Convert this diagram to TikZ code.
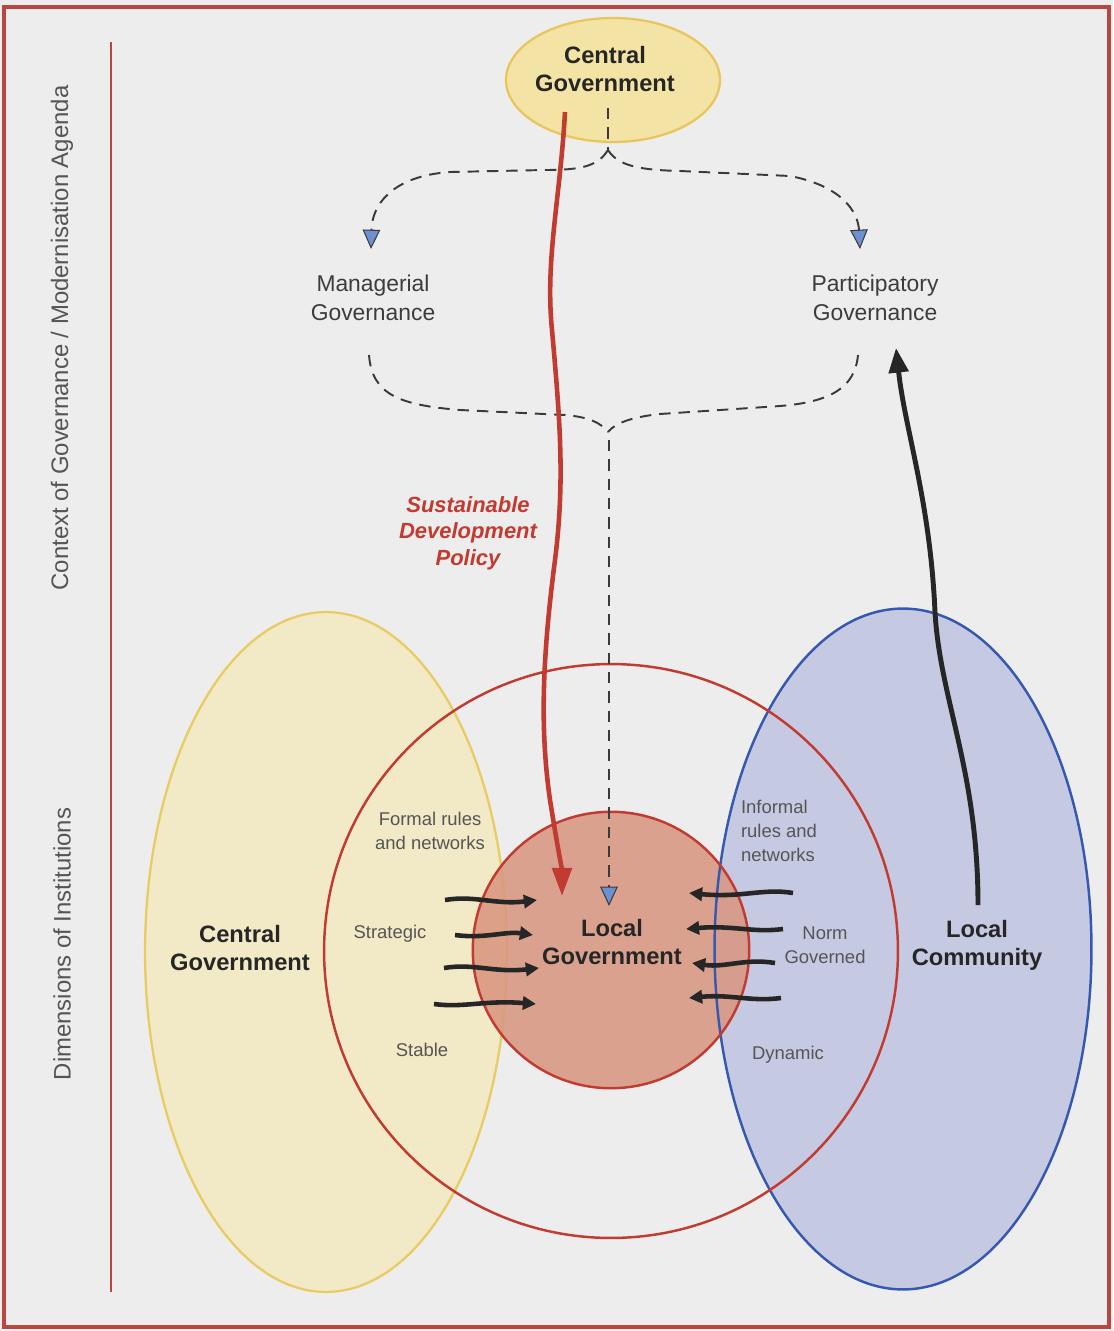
\documentclass[tikz,border=0pt]{standalone}
\usepackage{fontspec}
\setmainfont{Liberation Sans}
\usetikzlibrary{shapes.geometric,arrows.meta,calc}

\definecolor{bgc}{HTML}{EDEDED}
\definecolor{framec}{HTML}{B8473F}
\definecolor{cgfill}{HTML}{F3E4A6}
\definecolor{cgline}{HTML}{EAC55C}
\definecolor{yfill}{HTML}{F2E9C6}
\definecolor{yline}{HTML}{E8CB62}
\definecolor{bfill}{HTML}{C6C9E2}
\definecolor{bline}{HTML}{3559B0}
\definecolor{lgfill}{HTML}{D99580}
\definecolor{redc}{HTML}{C23B30}
\definecolor{dashc}{HTML}{3A3A3A}
\definecolor{tipblue}{HTML}{6E90D2}
\definecolor{inkc}{HTML}{262626}
\definecolor{labc}{HTML}{555555}

\begin{document}
\begin{tikzpicture}[x=0.02cm,y=-0.02cm,
  bigtxt/.style={font=\fontsize{13.5pt}{16pt}\selectfont\bfseries, text=inkc, align=center},
  govtxt/.style={font=\fontsize{13pt}{16.5pt}\selectfont, text=inkc!90, align=center},
  smalltxt/.style={font=\fontsize{10.5pt}{13.5pt}\selectfont, text=labc, align=center},
  sidetxt/.style={font=\fontsize{13.6pt}{16pt}\selectfont, text=labc, rotate=90},
  dashline/.style={draw=dashc, line width=1.1pt, dash pattern=on 6.5pt off 4.5pt},
  bluetip/.style={-{Triangle[length=11pt,width=10pt,fill=tipblue,line width=0.6pt]}},
  flow/.style={draw=inkc, line width=2.6pt, -{Triangle[length=7.5pt,width=7.5pt]}},
]
% page
\fill[bgc] (0,0) rectangle (1113,1331);
\useasboundingbox (0,0) rectangle (1113,1331);
\draw[framec, line width=1.8pt] (4,7) rectangle (1109,1327);
\draw[framec, line width=1.6pt] (111,42) -- (111,1292);

% side headings
\node[sidetxt] (ctx) at (62,338) {Context of Governance / Modernisation Agenda};
\node[sidetxt] (dims) at (62,944) {Dimensions of Institutions};

% institutional dimensions
\node[ellipse, fill=yfill, draw=yline, line width=1.3pt, minimum width=7.24cm, minimum height=13.6cm] (cgE) at (326,952) {};
\node[ellipse, fill=bfill, minimum width=7.54cm, minimum height=13.62cm] (lcE) at (903,949) {};
\node[circle, fill=lgfill, fill opacity=0.86, minimum size=5.53cm] (lgC) at (611,950) {};
\draw[bline, line width=1.4pt] (lcE.center) ellipse [x radius=3.77cm, y radius=6.81cm];
\node[circle, draw=redc, line width=1.4pt, minimum size=11.48cm] (outerC) at (611,951) {};
\draw[redc, line width=1.4pt] (lgC.center) circle [radius=2.765cm];

% top
\node[ellipse, fill=cgfill, draw=cgline, line width=1.3pt, minimum width=4.28cm, minimum height=2.48cm] (cgTop) at (613,80) {};
\node[bigtxt] (cgTopT) at (605,69) {Central\\Government};

\node[govtxt] (mg) at (373,298) {Managerial\\Governance};
\node[govtxt] (pg) at (875,298) {Participatory\\Governance};

% dashed branching from central government
\coordinate (jTop) at (608,150);
\coordinate (mgIn) at (371,249);
\coordinate (pgIn) at (860,249);
\draw[dashline] (608,108) -- (jTop);
\draw[dashline, bluetip] (jTop) .. controls (598,166) and (582,170) .. (545,170)
  -- (450,172) .. controls (392,176) and (372,205) .. (mgIn);
\draw[dashline, bluetip] (jTop) .. controls (618,166) and (640,170) .. (680,171)
  -- (790,176) .. controls (842,186) and (858,212) .. (pgIn);

% dashed brace joining the two governance modes
\coordinate (mgOut) at (369,355);
\coordinate (pgOut) at (858,355);
\coordinate (jBot) at (608,432);
\coordinate (lgIn) at (609,906);
\draw[dashline] (mgOut) .. controls (372,395) and (400,405) .. (460,410)
  -- (565,415) .. controls (588,417) and (600,422) .. (jBot);
\draw[dashline] (pgOut) .. controls (855,388) and (830,402) .. (780,406)
  -- (660,414) .. controls (632,417) and (615,423) .. (jBot);
\draw[dashline, bluetip] (609,440) -- (lgIn);

% policy arrow
\coordinate (polStart) at (565,112);
\coordinate (polEnd) at (562,896);
\draw[redc, line width=2.6pt, -{Triangle[length=16pt,width=11pt]}]
  (polStart) .. controls (560,200) and (545,260) .. (552,330)
  .. controls (560,420) and (565,480) .. (555,560)
  .. controls (542,660) and (540,730) .. (550,800)
  .. controls (558,850) and (562,870) .. (polEnd);
\node[font=\fontsize{12.5pt}{15pt}\selectfont\bfseries\itshape, text=redc, align=center] (pol) at (468,533) {Sustainable\\Development\\Policy};

% community voice arrow
\coordinate (lcOut) at (978,905);
\coordinate (pgUp) at (896,348);
\draw[inkc, line width=2.8pt, -{Triangle[length=14pt,width=11pt]}]
  (lcOut) .. controls (978,770) and (940,700) .. (935,612)
  .. controls (930,500) and (905,430) .. (pgUp);

% labels
\node[bigtxt] (cgT) at (240,948) {Central\\Government};
\node[bigtxt] (lgT) at (612,942) {Local\\Government};
\node[bigtxt] (lcT) at (977,945) {Local\\Community};

\node[smalltxt] (formal) at (430,831) {Formal rules\\and networks};
\node[smalltxt] (strat) at (390,934) {Strategic};
\node[smalltxt] (stab) at (422,1050) {Stable};
\node[smalltxt, align=left] (informal) at (779,831) {Informal\\rules and\\networks};
\node[smalltxt] (norm) at (825,945) {Norm\\Governed};
\node[smalltxt] (dyn) at (788,1055) {Dynamic};

% formal pressures on local government
\foreach \y/\xa/\xb/\w in {900/445/537/5, 935/455/533/-4, 968/444/539/5, 1004/434/536/-4}{
  \draw[flow] (\xa,\y) .. controls (\xa+30,\y-\w) and (\xa+50,\y+\w) .. (\xb,\y);
}
% informal pressures on local government
\foreach \y/\xa/\xb/\w in {893/793/689/5, 929/783/686/-4, 963/775/692/5, 998/781/689/-4}{
  \draw[flow] (\xa,\y) .. controls (\xa-30,\y-\w) and (\xa-50,\y+\w) .. (\xb,\y);
}
\end{tikzpicture}
\end{document}
